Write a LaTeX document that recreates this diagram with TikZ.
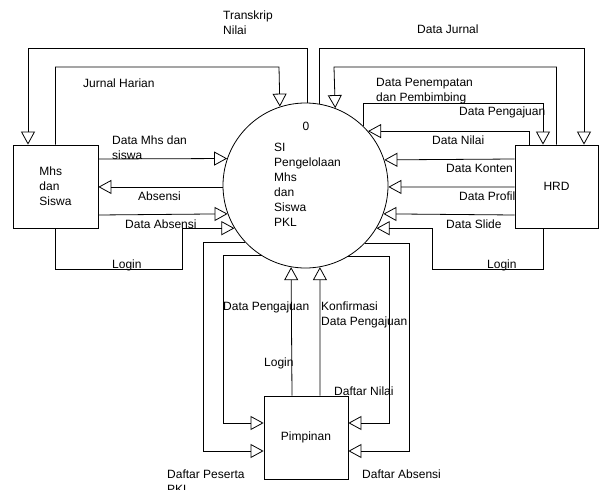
\documentclass[tikz,border=0pt]{standalone}
\usepackage{fontspec}
\setmainfont{Liberation Sans}
\usetikzlibrary{arrows.meta}
\begin{document}
\begin{tikzpicture}[x=1pt,y=-1pt,
  every node/.style={font=\fontsize{12}{15}\selectfont},
  boxnode/.style={draw, line width=0.8pt, inner sep=0pt},
  lbl/.style={inner sep=0pt, anchor=west, align=left},
  arr/.style={line width=0.8pt, -{Triangle[open,length=13pt,width=14pt]}},
]
\useasboundingbox (0,0) rectangle (606,490);
% nodes
\node[boxnode, circle, minimum size=165pt] (c) at (305.5,185.5) {};
\node[inner sep=0pt] (zero) at (306,126) {0};
\node[lbl, anchor=north west] (ctext) at (274,143) {SI\\Pengelolaan\\Mhs\\dan\\Siswa\\PKL};
\node[boxnode, minimum width=85pt, minimum height=83pt, align=left] (mhs) at (55.5,186.5) {Mhs\\dan\\Siswa};
\node[boxnode, minimum width=83pt, minimum height=83pt] (hrd) at (556.5,186.5) {HRD};
\node[boxnode, minimum width=84pt, minimum height=83pt] (pim) at (306,437.5) {Pimpinan};
% left side
\draw[arr] (c.89.65) |- (28,48) -- (28,48 |- mhs.north);
\draw[arr] (mhs.north) |- (279,67) -- (c.108.73);
\draw[arr] (mhs.east |- 0,159) -- (c.161.3);
\draw[arr] (c.181) -- (mhs.east |- c.181);
\draw[arr] (mhs.east |- 0,215) -- (c.200.95);
\draw[arr] (mhs.south) |- (182,269) |- (c.211);
% right side
\draw[arr] (c.80.2) |- (584,48) -- (584,48 |- hrd.north);
\draw[arr] (hrd.north) |- (334,67) -- (c.69.8);
\draw[arr] (c.46.8) |- (543,103) -- (543,103 |- hrd.north);
\draw[arr] (hrd.north -| 529,0) |- (c.41.35);
\draw[arr] (hrd.west |- 0,159) -- (c.18.73);
\draw[arr] (hrd.west |- 0,187) -- (c.-1.04);
\draw[arr] (hrd.west |- 0,215) -- (c.-20.95);
\draw[arr] (hrd.south -| 543,0) |- (432,269) |- (c.-31);
% bottom
\draw[arr] (c.223.2) -| (203,451) -- (pim.west |- 0,451);
\draw[arr] (c.238.7) -| (223,423) -- (pim.west |- 0,423);
\draw[arr] (pim.north -| 292,0) -- (c.260.6);
\draw[arr] (pim.north -| 320,0) -- (c.280.1);
\draw[arr] (c.301.3) -| (389,423) -- (pim.east |- 0,423);
\draw[arr] (c.316.8) -| (409,451) -- (pim.east |- 0,451);
% labels
\node[lbl] (l1) at (223,22.5) {Transkrip\\Nilai};
\node[lbl] (l2) at (83,83) {Jurnal Harian};
\node[lbl] (l3) at (112,147.5) {Data Mhs dan\\siswa};
\node[lbl] (l4) at (138,196) {Absensi};
\node[lbl] (l5) at (125,224) {Data Absensi};
\node[lbl] (l6) at (112,265) {Login};
\node[lbl] (r1) at (417,29) {Data Jurnal};
\node[lbl] (r2) at (376,91.5) {Data Penempatan\\dan Pembimbing};
\node[lbl] (r3) at (459,112) {Data Pengajuan};
\node[lbl] (r4) at (432,140) {Data Nilai};
\node[lbl] (r5) at (446,168) {Data Konten};
\node[lbl] (r6) at (459,196) {Data Profil};
\node[lbl] (r7) at (446,224) {Data Slide};
\node[lbl] (r8) at (487,265) {Login};
\node[lbl] (b1) at (223,307) {Data Pengajuan};
\node[lbl] (b2) at (321,314.5) {Konfirmasi\\Data Pengajuan};
\node[lbl] (b3) at (264,363) {Login};
\node[lbl] (b4) at (334,391) {Daftar Nilai};
\node[lbl] (b5) at (167,482) {Daftar Peserta\\PKL};
\node[lbl] (b6) at (362,474) {Daftar Absensi};
\end{tikzpicture}
\end{document}
